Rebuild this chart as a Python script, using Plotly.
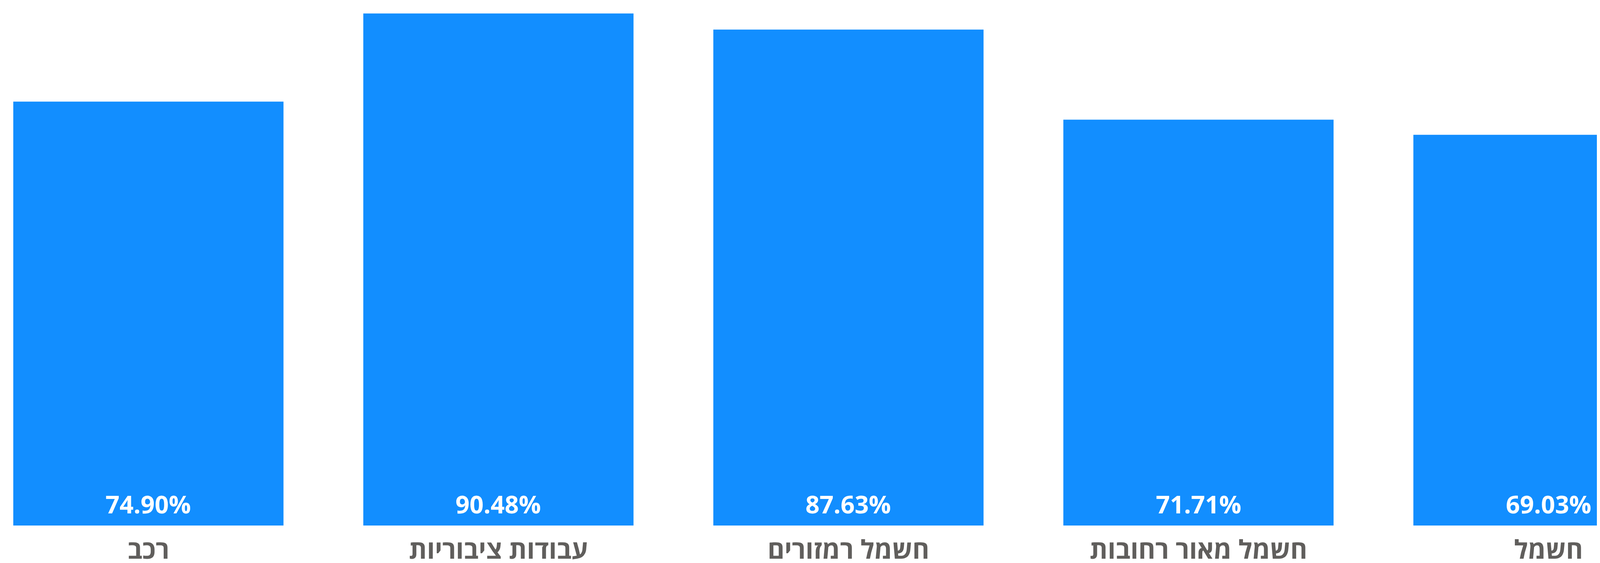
import plotly.graph_objects as go

categories = ["רכב", "עבודות ציבוריות", "חשמל רמזורים", "חשמל מאור רחובות", "חשמל"]
values = [74.90, 90.48, 87.63, 71.71, 69.03]
labels = [f"{v:.2f}%" for v in values]

fig = go.Figure(
    go.Bar(
        x=categories,
        y=values,
        marker=dict(color="#128EFF", line=dict(width=0)),
        hoverinfo="skip",
    )
)

for c, t in zip(categories, labels):
    fig.add_annotation(
        x=c, y=0, xref="x", yref="y",
        text=t, showarrow=False,
        yanchor="middle", yshift=56,
        font=dict(family="Open Sans", size=63, color="white", weight="bold"),
    )

fig.update_layout(
    width=4276,
    height=1442,
    margin=dict(l=0, r=0, t=0, b=90),
    paper_bgcolor="white",
    plot_bgcolor="white",
    bargap=0.228,
    showlegend=False,
    xaxis=dict(
        type="category",
        range=[-0.415, 4.357],
        showgrid=False,
        showline=False,
        zeroline=False,
        ticks="",
        ticklabelstandoff=18,
        tickfont=dict(family="Open Sans", size=66, color="#605E5C", weight="bold"),
    ),
    yaxis=dict(
        range=[0, 92.3],
        visible=False,
        showgrid=False,
        zeroline=False,
    ),
)

fig.write_html("out.html")
